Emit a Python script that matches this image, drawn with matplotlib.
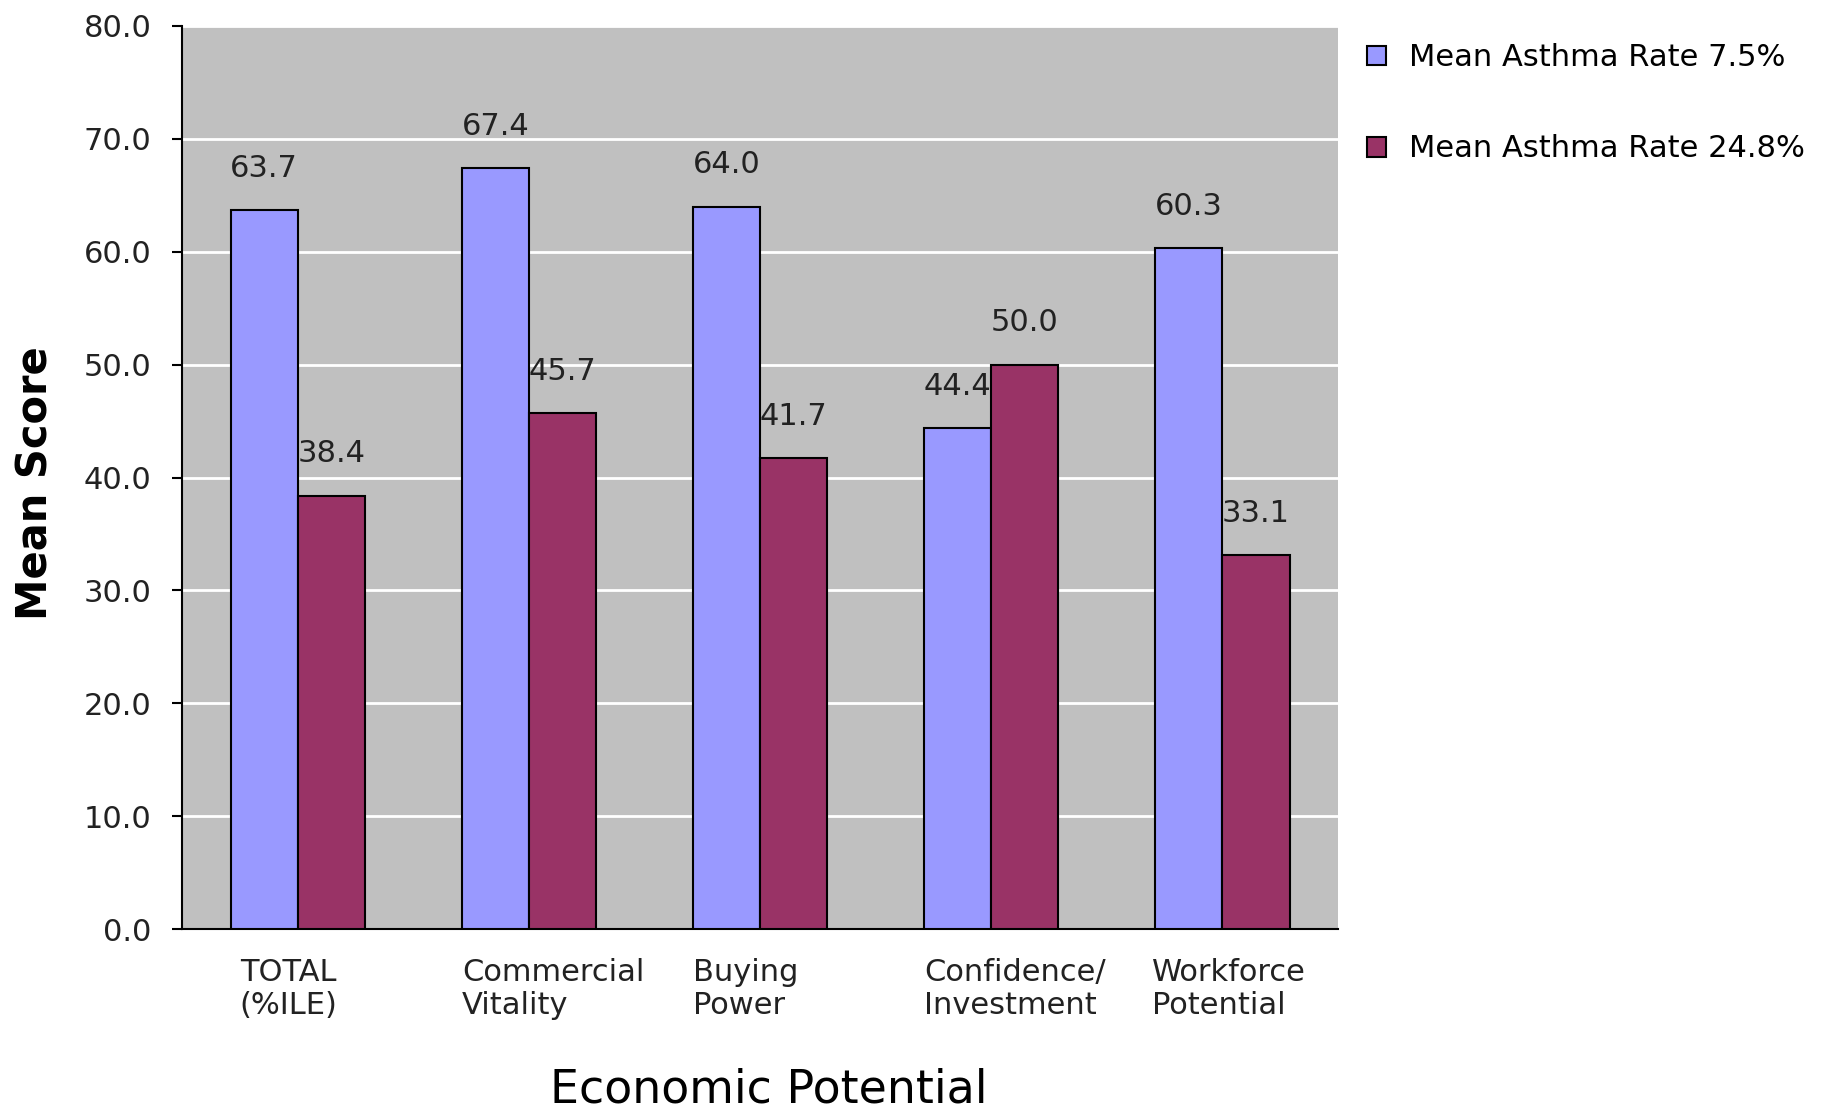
import matplotlib
matplotlib.use("Agg")
import matplotlib.pyplot as plt
import numpy as np

# data
categories = ["TOTAL\n(%ILE)", "Commercial\nVitality", "Buying\nPower",
              "Confidence/\nInvestment", "Workforce\nPotential"]
low_asthma = [63.7, 67.4, 64.0, 44.4, 60.3]
high_asthma = [38.4, 45.7, 41.7, 50.0, 33.1]
series_names = ["Mean Asthma Rate 7.5%", "Mean Asthma Rate 24.8%"]
yticks = np.arange(0, 81, 10)

plt.rcParams['font.family'] = ['DejaVu Sans']

fig = plt.figure(figsize=(18.37, 11.11), dpi=100)
ax = fig.add_axes([0.0991, 0.1638, 0.6293, 0.8128])
ax.set_facecolor('#C0C0C0')

x = np.arange(len(categories))
w = 0.29
b1 = ax.bar(x - w / 2, low_asthma, w, color='#9999FF', edgecolor='black',
            linewidth=1.5, label=series_names[0], zorder=3)
b2 = ax.bar(x + w / 2, high_asthma, w, color='#993366', edgecolor='black',
            linewidth=1.5, label=series_names[1], zorder=3)

# value labels above the bars
for xi, v in zip(x - w / 2, low_asthma):
    ax.text(xi, v + 3.7, '%.1f' % v, ha='center', va='center', fontsize=22, color='#222222')
for xi, v in zip(x + w / 2, high_asthma):
    ax.text(xi, v + 3.7, '%.1f' % v, ha='center', va='center', fontsize=22, color='#222222')

ax.set_xlim(-0.5, len(categories) - 0.5)
ax.set_ylim(0, 80)
ax.set_yticks(yticks)
ax.set_yticklabels(['%.1f' % t for t in yticks], fontsize=22, color='#222222')
ax.yaxis.grid(True, color='white', linewidth=2, zorder=1)
ax.set_axisbelow(True)
ax.tick_params(axis='y', length=7, width=1.5, pad=15, direction='out')
ax.set_xticks([])

for s in ['top', 'right']:
    ax.spines[s].set_visible(False)
ax.spines['left'].set_linewidth(1.5)
ax.spines['bottom'].set_linewidth(1.5)

# category labels, left aligned under each pair
label_shift = [0.04, 0.0, 0.0, 0.0, -0.015]
for xi, lab, sh in zip(x, categories, label_shift):
    ax.text(xi - w + sh, -2.6, lab, ha='left', va='top', fontsize=22,
            linespacing=1.15, color='#222222', clip_on=False)

fig.text(0.0195, 0.5653, 'Mean Score', rotation=90, ha='center', va='center',
         fontsize=30, fontweight='bold')
fig.text(0.4187, 0.0185, 'Economic Potential', ha='center', va='center', fontsize=33)

fig.legend(handles=[b1, b2], labels=series_names, loc='upper left',
           bbox_to_anchor=(0.744, 0.961), frameon=False, fontsize=22,
           handlelength=0.62, handleheight=0.62, handletextpad=0.75,
           labelspacing=2.03, borderpad=0, borderaxespad=0)

fig.savefig('out.png', dpi=100)
